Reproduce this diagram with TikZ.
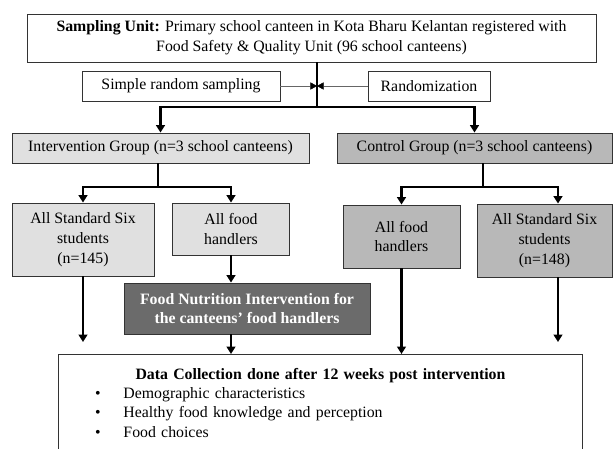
\documentclass[tikz,border=0pt]{standalone}
\usepackage{fontspec}
\setmainfont{Liberation Serif}
\usepackage{xcolor}
\usetikzlibrary{arrows.meta, calc}
\definecolor{intgray}{gray}{0.88}
\definecolor{ctrlgray}{gray}{0.72}
\definecolor{fnigray}{gray}{0.42}
\definecolor{edgegray}{gray}{0.2}

\begin{document}
\begin{tikzpicture}[x=0.03cm, y=-0.03cm,
  every node/.style={font=\fontsize{13.5}{17}\selectfont},
  box/.style={draw=edgegray, line width=0.8pt, align=center, inner sep=0pt},
  thickline/.style={line width=2.5pt, black},
  thickarrow/.style={thickline, -{Triangle[length=2.2mm, width=2.6mm]}},
  thinarrow/.style={line width=0.5pt, black!60, -{Triangle[length=2mm, width=2.2mm, color=black]}}]
  \useasboundingbox (0,0) rectangle (613,449);
  % sampling and randomisation
  \node[box, minimum width=17.07cm, minimum height=1.44cm] (sampling) at (311.5,38) {\textbf{Sampling Unit:} Primary school canteen in Kota Bharu Kelantan registered with\\Food Safety \& Quality Unit (96 school canteens)};
  \node[box, minimum width=5.94cm, minimum height=0.9cm] (srs) at (181,86) {Simple random sampling};
  \node[box, minimum width=3.66cm, minimum height=0.9cm] (rand) at (429,86) {Randomization};
  \coordinate (split) at (317,107);
  \draw[thickline] (sampling.south -| split) -- (split);
  \draw[thinarrow] (srs.east) -- (srs.east -| split);
  \draw[thinarrow] (rand.west) -- (rand.west -| split);
  % groups
  \node[box, fill=intgray, minimum width=8.91cm, minimum height=0.9cm] (intgrp) at (160.5,148) {Intervention Group (n=3 school canteens)};
  \node[box, fill=ctrlgray, minimum width=8.25cm, minimum height=0.9cm] (ctrlgrp) at (474.5,148) {Control Group (n=3 school canteens)};
  \draw[thickarrow] (split) -| (intgrp);
  \draw[thickarrow] (split) -| (ctrlgrp);
  % intervention side
  \node[box, fill=intgray, minimum width=4.26cm, minimum height=2.19cm] (intstd) at (83,239.5) {All Standard Six\\students\\(n=145)};
  \node[box, fill=intgray, minimum width=3.51cm, minimum height=1.56cm] (intfood) at (231,229) {All food\\handlers};
  \node[box, fill=fnigray, text=white, font=\fontsize{13.5}{17}\selectfont\bfseries, minimum width=7.38cm, minimum height=1.53cm] (fni) at (247,308.5) {Food Nutrition Intervention for\\the canteens’ food handlers};
  \coordinate (intsplit) at (158,187);
  \draw[thickline] (intgrp.south -| intsplit) -- (intsplit);
  \draw[thickarrow] (intsplit) -| (intstd);
  \draw[thickarrow] (intsplit) -| (intfood);
  \draw[thickarrow] (intfood.south) -- (intfood.south |- fni.north);
  % control side
  \node[box, fill=ctrlgray, minimum width=3.51cm, minimum height=1.89cm] (ctrlfood) at (401.5,236.5) {All food\\handlers};
  \node[box, fill=ctrlgray, minimum width=4.05cm, minimum height=2.19cm] (ctrlstd) at (544.5,240.5) {All Standard Six\\students\\(n=148)};
  \coordinate (ctrlsplit) at (483,187);
  \coordinate (ctrlright) at (558,187);
  \draw[thickline] (ctrlgrp.south -| ctrlsplit) -- (ctrlsplit);
  \draw[thickarrow] (ctrlsplit) -| (ctrlfood);
  \draw[thickarrow] (ctrlsplit) -- (ctrlright) -- (ctrlright |- ctrlstd.north);
  % data collection
  \node[box, anchor=north west, minimum width=15.72cm, minimum height=2.9cm, text width=15.72cm, align=left, inner ysep=0.08cm, font=\fontsize{13.5}{16.5}\selectfont] (data) at (58,354) {{\centering\textbf{Data Collection done after 12 weeks post intervention}\par}
    \hspace*{1.1cm}\makebox[0.85cm][l]{\textbullet}Demographic characteristics\\
    \hspace*{1.1cm}\makebox[0.85cm][l]{\textbullet}Healthy food knowledge and perception\\
    \hspace*{1.1cm}\makebox[0.85cm][l]{\textbullet}Food choices};
  \coordinate (stop) at (320,342);
  \draw[thickarrow] (intstd.south) -- (intstd.south |- stop);
  \draw[thickarrow] (intfood.south |- fni.south) -- (intfood.south |- data.north);
  \draw[thickarrow] (ctrlfood) -- (ctrlfood |- data.north);
  \draw[thickarrow] (ctrlstd.south -| ctrlright) -- (ctrlright |- stop);
\end{tikzpicture}
\end{document}
